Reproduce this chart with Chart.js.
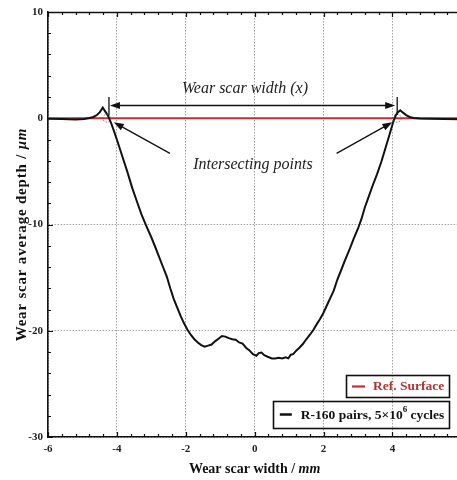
<!DOCTYPE html>
<html>
<head>
<meta charset="utf-8">
<script src="https://cdn.jsdelivr.net/npm/chart.js@4"></script>
<style>
  html, body { margin: 0; padding: 0; background: #fff; overflow: hidden; }
  #wrap { width: 470px; height: 480px; }
</style>
</head>
<body>
<div id="wrap"><canvas id="chart" width="470" height="480"></canvas></div>
<script>
'use strict';

// wear scar profile (x in mm, depth in um)
const scarX = [
  -6.0, -5.6, -5.2, -4.95, -4.8, -4.68, -4.58, -4.5, -4.45, -4.41,
  -4.33, -4.25, -4.15, -4.0, -3.85, -3.7, -3.55, -3.4, -3.28, -3.15,
  -3.0, -2.9, -2.78, -2.66, -2.55, -2.45, -2.35, -2.25, -2.15, -2.05,
  -1.95, -1.85, -1.75, -1.65, -1.55, -1.45, -1.35, -1.25, -1.15, -1.05,
  -0.95, -0.85, -0.75, -0.65, -0.55, -0.45, -0.35, -0.25, -0.15, -0.05,
  0.05, 0.12, 0.2, 0.28, 0.38, 0.5, 0.6, 0.7, 0.8, 0.9,
  0.98, 1.05, 1.12, 1.2, 1.3, 1.4, 1.5, 1.6, 1.7, 1.8,
  1.9, 2.0, 2.1, 2.2, 2.3, 2.4, 2.5, 2.62, 2.75, 2.88,
  3.0, 3.1, 3.2, 3.3, 3.42, 3.55, 3.68, 3.8, 3.92, 4.02,
  4.1, 4.17, 4.23, 4.3, 4.4, 4.5, 4.62, 4.8, 5.1, 5.5, 6.0
];
const scarDepth = [
  -0.05, -0.08, -0.12, -0.08, 0.02, 0.12, 0.3, 0.55, 0.8, 1.0,
  0.6, 0.2, -0.6, -2.0, -3.5, -5.0, -6.6, -8.0, -9.1, -10.1,
  -11.2, -12.0, -13.0, -14.0, -14.9, -16.0, -17.0, -17.8, -18.6, -19.3,
  -19.9, -20.4, -20.8, -21.1, -21.35, -21.5, -21.4, -21.3, -21.0, -20.75,
  -20.5, -20.55, -20.7, -20.8, -20.85, -21.1, -21.2, -21.6, -21.85, -22.2,
  -22.35, -22.1, -22.05, -22.3, -22.45, -22.6, -22.6, -22.55, -22.6, -22.5,
  -22.6, -22.25, -22.2, -21.9, -21.6, -21.25, -20.8, -20.4, -19.95, -19.4,
  -18.9, -18.3, -17.6, -16.9, -16.2, -15.2, -14.4, -13.4, -12.4, -11.3,
  -10.4, -9.5, -8.4, -7.5, -6.4, -5.3, -4.1, -2.8, -1.5, -0.4,
  0.3, 0.6, 0.75, 0.55, 0.3, 0.12, 0.02, -0.02, -0.05, -0.08, -0.1
];

// reference surface line
const refX = [-6, 6];
const refDepth = [0, 0];

const xTicks = [-6, -4, -2, 0, 2, 4, 6];
const yTicks = [-30, -20, -10, 0, 10];

const refLabel = 'Ref. Surface';
const scarLabel = ['R-160 pairs, 5×10', '6', ' cycles'];

const SERIF = '"Liberation Serif", "Times New Roman", serif';
const RED = '#c62f2b';

function toPoints(xs, ys) {
  return xs.map((v, i) => ({ x: v, y: ys[i] }));
}

function arrow(ctx, x1, y1, x2, y2, head) {
  const ang = Math.atan2(y2 - y1, x2 - x1);
  ctx.beginPath();
  ctx.moveTo(x1, y1);
  ctx.lineTo(x2 - Math.cos(ang) * head * 0.8, y2 - Math.sin(ang) * head * 0.8);
  ctx.stroke();
  ctx.beginPath();
  ctx.moveTo(x2, y2);
  ctx.lineTo(x2 - head * Math.cos(ang) + 3.5 * Math.sin(ang), y2 - head * Math.sin(ang) - 3.5 * Math.cos(ang));
  ctx.lineTo(x2 - head * Math.cos(ang) - 3.5 * Math.sin(ang), y2 - head * Math.sin(ang) + 3.5 * Math.cos(ang));
  ctx.closePath();
  ctx.fill();
}

function mixedText(ctx, parts, cx, cy) {
  let total = 0;
  parts.forEach(p => { ctx.font = p[1]; total += ctx.measureText(p[0]).width; });
  let xx = cx - total / 2;
  ctx.textBaseline = 'middle';
  ctx.textAlign = 'left';
  parts.forEach(p => {
    ctx.font = p[1];
    ctx.fillText(p[0], xx, cy);
    xx += ctx.measureText(p[0]).width;
  });
}

// inward ticks, top frame line, axis titles
const frame = {
  id: 'frame',
  afterDraw(chart) {
    const { ctx, chartArea: a, scales: { x, y } } = chart;
    ctx.save();
    ctx.strokeStyle = '#111';
    ctx.lineWidth = 1.2;
    ctx.beginPath();
    for (let i = 0; i <= 30; i++) {
      const px = Math.round(x.getPixelForValue(-6 + i * 0.4)) + 0.5;
      const len = i % 5 === 0 ? 5 : 3;
      ctx.moveTo(px, a.bottom); ctx.lineTo(px, a.bottom - len);
      ctx.moveTo(px, a.top); ctx.lineTo(px, a.top + len);
    }
    for (let v = -30; v <= 10; v += 2) {
      const py = Math.round(y.getPixelForValue(v)) + 0.5;
      const len = v % 10 === 0 ? 5 : 3;
      ctx.moveTo(a.left, py); ctx.lineTo(a.left + len, py);
    }
    ctx.stroke();
    ctx.lineWidth = 1.6;
    ctx.beginPath();
    ctx.moveTo(a.left, a.top + 0.5); ctx.lineTo(a.right + 5, a.top + 0.5);
    ctx.stroke();

    ctx.fillStyle = '#111';
    mixedText(ctx, [['Wear scar width / ', 'bold 14px ' + SERIF], ['mm', 'italic bold 14px ' + SERIF]],
      (a.left + a.right) / 2, 469);
    ctx.translate(22, (a.top + a.bottom) / 2 + 10);
    ctx.rotate(-Math.PI / 2);
    ctx.letterSpacing = '0.8px';
    mixedText(ctx, [['Wear scar average depth / ', 'bold 15px ' + SERIF], ['\u03bcm', 'italic bold 15px ' + SERIF]], 0, 0);
    ctx.letterSpacing = '0px';
    ctx.restore();
  }
};

// width arrow, intersecting points, boxed legend
const notes = {
  id: 'notes',
  afterDatasetsDraw(chart) {
    const { ctx, chartArea: a, scales: { x, y } } = chart;
    ctx.save();
    ctx.strokeStyle = '#111';
    ctx.fillStyle = '#111';
    ctx.lineWidth = 1.3;

    const yArr = y.getPixelForValue(1.2);
    const xl = x.getPixelForValue(-4.23), xr = x.getPixelForValue(4.14);
    ctx.beginPath();
    ctx.moveTo(xl, y.getPixelForValue(2.0)); ctx.lineTo(xl, y.getPixelForValue(0.3));
    ctx.moveTo(xr, y.getPixelForValue(2.0)); ctx.lineTo(xr, y.getPixelForValue(0.3));
    ctx.stroke();
    arrow(ctx, (xl + xr) / 2, yArr, xl + 1, yArr, 10);
    arrow(ctx, (xl + xr) / 2, yArr, xr - 2, yArr, 10);

    arrow(ctx, x.getPixelForValue(-2.46), y.getPixelForValue(-3.3), x.getPixelForValue(-4.09), y.getPixelForValue(-0.38), 10);
    arrow(ctx, x.getPixelForValue(2.38), y.getPixelForValue(-3.3), x.getPixelForValue(4.0), y.getPixelForValue(-0.38), 10);

    ctx.setLineDash([1.5, 1.5]);
    ctx.lineWidth = 0.8;
    ctx.strokeStyle = '#555';
    [-4.29, 4.14].forEach(v => {
      ctx.beginPath();
      ctx.arc(x.getPixelForValue(v), y.getPixelForValue(0), 4, 0, Math.PI * 2);
      ctx.stroke();
    });
    ctx.setLineDash([]);

    ctx.fillStyle = '#222';
    mixedText(ctx, [['Wear scar width (', 'italic 16px ' + SERIF], ['x', 'italic 16px ' + SERIF], [')', 'italic 16px ' + SERIF]],
      x.getPixelForValue(-0.28), y.getPixelForValue(2.8));
    mixedText(ctx, [['Intersecting points', 'italic 16px ' + SERIF]],
      x.getPixelForValue(-0.05), y.getPixelForValue(-4.4));

    // legend boxes
    const right = a.right - 12;
    const bold = 'bold 13.5px ' + SERIF;
    ctx.font = bold;
    const w1 = ctx.measureText(refLabel).width;
    const b1w = 6 + 13 + 8 + w1 + 5;
    const b1 = { x: right - b1w, y: 375, h: 22 };
    ctx.lineWidth = 1.6;
    ctx.strokeStyle = '#111';
    ctx.strokeRect(Math.round(b1.x) + 0.5, b1.y + 0.5, Math.round(b1w), b1.h);
    ctx.strokeStyle = RED;
    ctx.lineWidth = 2.2;
    ctx.beginPath();
    ctx.moveTo(b1.x + 6, b1.y + 11.5); ctx.lineTo(b1.x + 19, b1.y + 11.5);
    ctx.stroke();
    ctx.fillStyle = '#b3332e';
    ctx.textAlign = 'left';
    ctx.textBaseline = 'middle';
    ctx.fillText(refLabel, b1.x + 27, b1.y + 12);

    ctx.font = bold;
    const t1 = ctx.measureText(scarLabel[0]).width;
    ctx.font = 'bold 9px ' + SERIF;
    const t2 = ctx.measureText(scarLabel[1]).width;
    ctx.font = bold;
    const t3 = ctx.measureText(scarLabel[2]).width;
    const b2w = 7 + 12 + 9 + t1 + t2 + t3 + 5;
    const b2 = { x: right - b2w, y: 401, h: 27 };
    ctx.strokeStyle = '#111';
    ctx.lineWidth = 1.6;
    ctx.strokeRect(Math.round(b2.x) + 0.5, b2.y + 0.5, Math.round(b2w), b2.h);
    ctx.lineWidth = 2.5;
    ctx.beginPath();
    ctx.moveTo(b2.x + 7, b2.y + 13.5); ctx.lineTo(b2.x + 19, b2.y + 13.5);
    ctx.stroke();
    ctx.fillStyle = '#111';
    let tx = b2.x + 28;
    ctx.font = bold;
    ctx.fillText(scarLabel[0], tx, b2.y + 15);
    tx += t1;
    ctx.font = 'bold 9px ' + SERIF;
    ctx.fillText(scarLabel[1], tx, b2.y + 9);
    tx += t2;
    ctx.font = bold;
    ctx.fillText(scarLabel[2], tx, b2.y + 15);
    ctx.restore();
  }
};

const tickFont = { family: SERIF, size: 11, weight: 'bold' };

new Chart(document.getElementById('chart'), {
  type: 'scatter',
  data: {
    datasets: [
      {
        label: 'R-160 pairs',
        data: toPoints(scarX, scarDepth),
        showLine: true,
        borderColor: '#111',
        borderWidth: 2,
        pointRadius: 0,
        tension: 0,
        order: 0
      },
      {
        label: refLabel,
        data: toPoints(refX, refDepth),
        showLine: true,
        borderColor: RED,
        borderWidth: 2,
        pointRadius: 0,
        order: 1
      }
    ]
  },
  options: {
    responsive: false,
    animation: false,
    layout: { padding: { top: 12, right: 8, left: 0, bottom: 0 } },
    plugins: { legend: { display: false }, tooltip: { enabled: false } },
    scales: {
      x: {
        type: 'linear',
        min: -6,
        max: 6,
        afterBuildTicks: s => { s.ticks = xTicks.map(v => ({ value: v })); },
        afterFit: s => { s.height = 43; },
        ticks: { font: tickFont, color: '#222', padding: 6 },
        grid: { color: '#a0a0a0', lineWidth: 1, drawTicks: false },
        border: { color: '#111', width: 1.6, dash: [1.5, 1.5] }
      },
      y: {
        min: -30,
        max: 10,
        afterBuildTicks: s => { s.ticks = yTicks.map(v => ({ value: v })); },
        afterFit: s => { s.width = 48; },
        ticks: { font: tickFont, color: '#222', padding: 5 },
        grid: { color: '#a0a0a0', lineWidth: 1, drawTicks: false },
        border: { color: '#111', width: 1.6, dash: [1.5, 1.5] }
      }
    }
  },
  plugins: [frame, notes]
});
</script>
</body>
</html>
